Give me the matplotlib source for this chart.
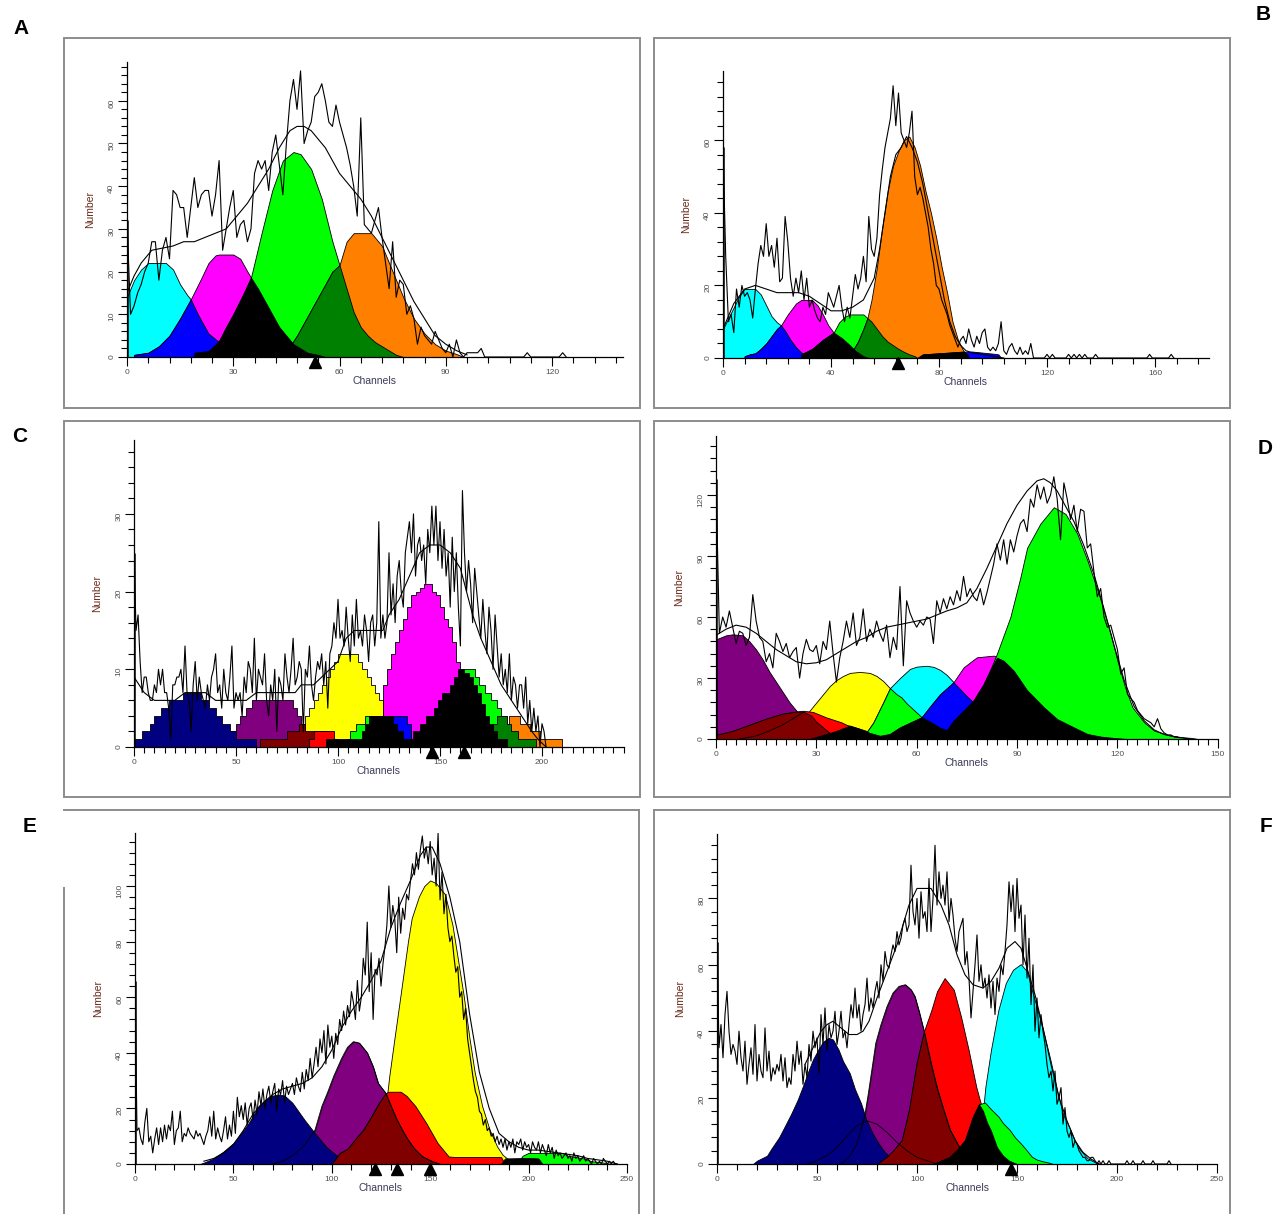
import numpy as np
import matplotlib.pyplot as plt
from matplotlib.patches import Rectangle
from matplotlib.lines import Line2D
from matplotlib.ticker import MultipleLocator
from matplotlib.transforms import offset_copy

plt.rcParams['font.family'] = ['Liberation Sans', 'DejaVu Sans']

W, H = 1278, 1214

CYAN, BLUE, MAGENTA, BLACK = '#00ffff', '#0000ff', '#ff00ff', '#000000'
GREEN, DKGREEN, ORANGE, YELLOW = '#00ff00', '#008000', '#ff8000', '#ffff00'
NAVY, PURPLE, DKRED, RED = '#000080', '#800080', '#800000', '#ff0000'

# ---------------- panel A ----------------
a_raw = [32, 10, 12, 15, 17, 20, 22, 27, 27, 18,
         25, 28, 23, 39, 38, 35, 35, 28, 35, 42,
         35, 38, 39, 39, 33, 38, 46, 25, 30, 35,
         39, 28, 31, 32, 27, 30, 43, 46, 44, 46,
         39, 48, 52, 45, 38, 50, 60, 65, 58, 67,
         50, 53, 55, 61, 62, 64, 60, 55, 54, 59,
         55, 52, 49, 45, 40, 33, 56, 31, 30, 29,
         32, 35, 28, 22, 16, 27, 14, 18, 17, 10,
         12, 9, 3, 7, 5, 4, 3, 6, 4, 2,
         1, 3, 0, 4, 1, 0, 1, 1, 1, 1,
         2] + [0] * 12 + [1] + [0] * 9 + [1, 0]
a_fit_x = [0, 2, 4, 7, 10, 13, 16, 19, 22, 25, 28, 31, 34, 37, 40, 43, 46, 48, 50, 52,
           54, 56, 58, 60, 63, 66, 69, 72, 75, 78, 81, 84, 87, 90, 93, 96]
a_fit_y = [15, 19, 22, 25, 25.5, 26, 27, 27, 28, 29, 30, 33, 36, 40, 44, 49, 53, 54, 54, 53,
           51, 49, 46, 43, 40, 37, 33, 28, 23, 18, 13, 9, 5, 3, 1.5, 0.5]
a_cyan = ([0, 2, 4, 6, 8, 11, 13, 15, 17, 18, 20, 23, 26, 29, 32],
          [14, 18, 20.5, 22, 22, 22, 20.5, 17, 14.5, 13.5, 10, 5.5, 3.5, 1.5, 0])
a_magenta = ([2, 6, 9, 12, 15, 18, 21, 23, 25, 26, 30, 32, 34, 35, 37, 39, 41, 43, 45, 47, 49, 51, 54, 56],
             [0.5, 1, 2.5, 5, 9, 13.5, 18.5, 22, 23.8, 24, 24, 23, 20, 18.6, 16, 13, 10, 7, 5, 3, 2, 1, 0.5, 0])
a_green = ([19, 23, 26, 28, 30, 33, 35, 38, 41, 44, 47, 49, 52, 55, 58, 60, 62, 64, 66, 68, 70, 72, 74, 76, 78],
           [1, 1.4, 3.75, 7, 10, 15, 18.6, 29, 39, 46, 48, 47.5, 44, 37, 27, 21.5, 16, 10.5, 7, 5, 3.5, 2.5, 1.5, 0.5, 0])
a_orange = ([44, 46, 48, 50, 52, 54, 56, 58, 60, 62, 64, 69, 72, 75, 78, 81, 84, 87, 90, 93, 95],
            [1, 2.5, 5, 8, 11, 14, 17, 20, 21.5, 27, 29, 29, 26, 20, 14, 9, 5.5, 3, 1.5, 0.7, 0])
a_blue = ([2, 6, 9, 12, 15, 18, 20, 23, 26, 29, 32],
          [0.5, 1, 2.5, 5, 9, 13.5, 10, 5.5, 3.5, 1.5, 0])
a_black = ([19, 23, 26, 28, 30, 33, 35, 37, 39, 41, 43, 45, 47, 49, 51, 54, 56],
           [1, 1.4, 3.75, 7, 10, 15, 18.6, 16, 13, 10, 7, 5, 3, 2, 1, 0.5, 0])
a_dkgreen = ([44, 46, 48, 50, 52, 54, 56, 58, 60, 62, 64, 66, 68, 70, 72, 74, 76, 78],
             [1, 2.5, 5, 8, 11, 14, 17, 20, 21.5, 16, 10.5, 7, 5, 3.5, 2.5, 1.5, 0.5, 0])
a_marks = [53]

# ---------------- panel B ----------------
b_raw = [58, 28, 10, 12, 7, 19, 14, 20, 17, 18,
         16, 11, 19, 26, 31, 28, 37, 28, 31, 25,
         33, 21, 22, 39, 32, 22, 17, 22, 18, 24,
         16, 22, 14, 16, 13, 11, 10, 14, 12, 18,
         16, 14, 17, 20, 14, 10, 14, 11, 17, 23,
         19, 22, 28, 21, 39, 30, 28, 33, 45, 52,
         58, 62, 66, 75, 64, 73, 62, 60, 58, 62,
         68, 50, 45, 47, 44, 40, 36, 30, 26, 20,
         19, 16, 14, 12, 9, 7, 5, 3, 5, 6,
         4, 8, 5, 3, 6, 4, 7, 8, 3, 2,
         3, 2, 4, 10, 2, 1, 3, 4, 2, 1,
         3, 1, 2, 1, 4, 0, 0, 0, 0, 0,
         1, 0, 1, 0, 0, 0, 0, 0, 1, 0,
         1, 0, 1, 0, 1, 0, 0, 0, 1, 0] + [0] * 18 + [1] + [0] * 7 + [1, 0]
b_fit_x = [0, 4, 8, 12, 16, 20, 24, 28, 32, 36, 40, 44, 48, 52, 56, 58, 60, 62, 64, 66,
           68, 70, 72, 74, 76, 78, 80, 82, 84, 86, 88, 90, 92, 96, 100, 104]
b_fit_y = [8, 15, 19, 20, 19, 18, 18, 18, 17, 15, 13, 13, 14, 16, 22, 30, 40, 50, 56, 58,
           61, 58, 54, 48, 40, 32, 24, 16, 10, 6, 3.5, 2, 1.5, 1, 0.5, 0]
b_cyan = ([0, 2, 4, 6, 8, 12, 14, 16, 18, 20, 21.5, 24, 27, 30, 33],
          [8, 11, 14, 17, 19, 19, 17.5, 14.5, 11.5, 9.8, 9, 6, 3, 1, 0])
b_magenta = ([8, 10, 12, 14, 16, 18, 20, 21.5, 24, 27, 29, 33, 35, 37, 39, 41, 44, 47, 49, 52, 54],
             [0.5, 1, 1.3, 2.5, 4, 6, 8, 9, 12, 15, 16, 16, 14.5, 12, 9, 7, 5.5, 3.5, 2, 0.5, 0])
b_green = ([29, 33, 37, 41, 43, 45, 47, 52, 53.5, 55, 57, 59, 61, 63, 65, 67, 69, 71, 72],
           [1, 2.5, 5, 7, 9.8, 11.3, 12, 12, 11, 10, 8, 6, 4.5, 3.5, 2.5, 1.7, 1, 0.5, 0])
b_orange = ([44, 46, 48, 50, 52, 53.5, 55, 57, 59, 61, 63, 65, 67, 69, 71, 73, 75, 77, 79, 81,
             83, 85, 87, 89, 91, 93],
            [0.3, 1, 2, 4.5, 8, 11, 16, 25, 36, 46, 53, 57, 60, 61, 58, 53, 46, 40, 33, 25,
             18, 10, 5, 2, 0.5, 0])
b_blue_tail = ([72, 74, 80, 86, 92, 96, 100, 102, 103],
               [0, 1, 1.3, 1.6, 1.8, 1.5, 1.2, 1, 0])
b_blue = ([8, 10, 12, 14, 16, 18, 20, 21.5, 23, 25, 27, 29, 31, 33],
          [0.5, 1, 1.3, 2.5, 4, 6, 8, 9, 7.5, 5, 3, 1.5, 0.5, 0])
b_dkgreen = ([44, 46, 48, 50, 52, 53.5, 55, 57, 59, 61, 63, 65, 67, 69, 71, 72],
             [0.3, 1, 2, 4.5, 8, 11, 10, 8, 6, 4.5, 3.5, 2.5, 1.7, 1, 0.5, 0])
b_black = ([29, 33, 37, 41, 44, 47, 49, 52, 54],
           [1, 2.5, 5, 7, 5.5, 3.5, 2, 0.5, 0])
b_black_tail = ([72, 74, 80, 86, 89, 90.5, 91],
                [0, 1, 1.3, 1.6, 1.8, 1, 0])
b_marks = [65]

# ---------------- panel C (stepped components) ----------------
c_raw = [25, 15, 17, 11, 7, 9, 9, 7, 6, 6, 8, 7, 10, 8, 10, 7, 7, 5, 1, 8,
         8, 9, 9, 10, 7, 13, 7, 6, 2, 8, 11, 6, 9, 7, 6, 5, 8, 6, 9, 10,
         12, 7, 8, 5, 10, 7, 6, 9, 13, 5, 7, 6, 7, 4, 9, 7, 11, 10, 7, 14,
         6, 10, 9, 8, 12, 6, 4, 8, 6, 10, 2, 9, 8, 6, 12, 9, 7, 10, 14, 8,
         9, 11, 10, 2, 10, 9, 13, 8, 6, 9, 11, 10, 12, 8, 11, 5, 12, 13, 16, 14,
         19, 14, 15, 13, 18, 14, 11, 17, 13, 19, 14, 15, 13, 17, 15, 11, 16, 17, 13, 16,
         29, 14, 17, 14, 16, 25, 17, 21, 16, 22, 24, 20, 18, 25, 27, 29, 25, 30, 22, 26,
         27, 24, 26, 21, 28, 25, 31, 26, 31, 24, 29, 23, 28, 22, 25, 18, 27, 20, 25, 18,
         13, 33, 25, 20, 24, 21, 16, 23, 20, 17, 14, 19, 15, 12, 18, 15, 10, 17, 13, 9,
         12, 8, 10, 7, 12, 6, 9, 8, 5, 8, 8, 5, 9, 3, 6, 2, 5, 2, 4, 0,
         3, 2, 0]
c_fit_x = [0, 5, 10, 20, 25, 35, 40, 55, 60, 79, 82, 88, 92, 96, 100, 104, 108, 122, 125, 130,
           135, 140, 145, 150, 155, 160, 163, 166, 170, 175, 180, 185, 190, 195, 198, 202]
c_fit_y = [9, 7, 6, 6, 7, 7, 6, 6, 7, 7, 8, 8, 9, 10, 11, 14, 15, 15, 17, 19,
           22, 25, 26, 26, 25, 23, 20, 17, 14, 11, 8, 6, 4, 2, 1, 0]
c_navy = ([0, 4, 8, 10, 13, 17, 24, 33, 37, 40, 43, 47, 50, 60],
          [1, 2, 3, 4, 5, 6, 7, 6, 5, 4, 3, 2, 1, 0])
c_purple = ([45, 47, 50, 52, 55, 58, 78, 80, 82, 84, 86, 88],
            [1, 2, 3, 4, 5, 6, 5, 4, 3, 2, 1, 0])
c_dkred = ([62, 75, 81, 84, 95, 100], [1, 2, 3, 2, 1, 0])
c_red_peak = ([117, 119, 125, 127], [4, 5.5, 4, 0])
c_red_low = ([86, 88, 98], [1, 2, 0])
c_yellow = ([82, 84, 86, 88, 90, 92, 94, 96, 98, 100, 110, 112, 114, 116, 118, 120, 122, 124, 126, 128, 130],
            [2, 4, 5, 6, 7, 8, 9, 10, 11, 12, 11, 10, 9, 8, 7, 6, 5, 3, 2, 1, 0])
c_green = ([104, 106, 109, 113, 122, 130, 138, 146, 152, 158, 167, 169, 172, 175, 178, 180, 183, 186, 188],
           [1, 2, 3, 4, 5, 6, 7, 8, 9, 10, 9, 8, 7, 6, 5, 4, 2, 1, 0])
c_magenta = ([120, 122, 124, 126, 128, 130, 132, 134, 136, 138, 140, 142, 146, 148, 150, 152, 154, 156,
              158, 160, 162, 164, 166, 168, 170],
             [3, 8, 10, 12, 13.5, 15, 16.5, 18, 19.5, 20, 20.5, 21, 20, 19.5, 18, 16.5, 15.5, 13.5,
              11, 9, 7, 5, 3, 1, 0])
c_blue = ([120, 122, 134, 136, 138], [2, 4, 3, 1, 0])
c_black = ([94, 112, 113, 115, 127, 129, 132, 137, 140, 143, 147, 149, 151, 155, 157, 159, 162, 164,
            166, 168, 170, 172, 174, 176, 178, 183],
           [1, 2, 3, 4, 3, 2, 1, 2, 3, 4, 5, 6, 7, 8, 9, 10, 9.5, 9, 8, 7, 5.5, 4, 3, 2, 1, 0])
c_dkgreen = ([170, 172, 176, 178, 183, 185, 188, 197], [1, 2, 3, 4, 3, 2, 1, 0])
c_orange = ([180, 182, 184, 189, 194, 199, 210], [2, 3, 4, 3, 2, 1, 0])
c_marks = [146, 162]

# ---------------- panel D ----------------
d_raw = [128, 52, 60, 55, 63, 55, 47, 53, 52, 46,
         50, 71, 58, 50, 48, 38, 42, 35, 52, 48,
         43, 47, 40, 43, 45, 30, 42, 49, 44, 43,
         46, 37, 48, 44, 58, 42, 28, 40, 48, 58,
         50, 62, 46, 50, 64, 48, 54, 50, 58, 52,
         48, 56, 40, 50, 44, 75, 36, 68, 62, 58,
         55, 58, 56, 60, 59, 47, 68, 62, 69, 64,
         70, 66, 73, 68, 80, 70, 74, 70, 68, 74,
         66, 72, 79, 86, 96, 88, 98, 86, 98, 92,
         100, 106, 108, 102, 118, 114, 125, 118, 124, 116,
         120, 129, 118, 98, 126, 118, 108, 115, 102, 113,
         112, 94, 96, 82, 70, 74, 60, 55, 56, 50,
         44, 32, 35, 22, 20, 18, 14, 12, 10, 9,
         8, 6, 10, 5, 3, 2, 2, 1, 1]
d_fit_x = [0, 3, 6, 9, 12, 15, 18, 21, 24, 27, 30, 33, 36, 39, 42, 45, 48, 51, 54, 57,
           60, 63, 66, 69, 72, 75, 78, 81, 84, 87, 90, 93, 96, 98, 100, 102, 104, 107, 110, 113,
           116, 119, 122, 125, 128, 131, 134, 138, 142]
d_fit_y = [51, 54, 56, 55, 52, 48, 44, 41, 38, 37, 37.5, 39, 42, 45, 48, 50, 53, 55, 56, 57,
           58, 59, 61, 63, 64.5, 67, 74, 84, 95, 106, 115, 122, 127, 128, 126, 122, 116, 107, 95, 81,
           64, 46, 29, 16, 9, 4.5, 2.2, 0.8, 0]
d_purple = ([0, 3, 5, 8, 10, 12, 14, 16, 18, 20, 22, 24, 26, 28, 30, 33, 36, 40, 44],
            [49, 51, 51.5, 51, 48, 44, 39, 33, 28, 23, 18, 14, 10, 7, 5, 3, 1.5, 0.5, 0])
d_red = ([0, 5, 10, 15, 20, 24, 26, 29, 33, 37.5, 39, 42, 45, 48, 51, 54],
         [2, 4, 7, 10, 12.5, 13.5, 13.9, 13.3, 10.6, 8.2, 7, 5.5, 4, 2.5, 1, 0])
d_dkred = ([0, 5, 10, 15, 20, 24, 26, 28.5, 30, 32, 34, 36],
           [2, 4, 7, 10, 12.5, 13.5, 13.5, 11.5, 8.5, 5.7, 3, 0])
d_yellow = ([24, 26, 28, 30, 32, 34, 36, 38, 40, 43, 46, 48, 50, 52, 54, 55.4, 57, 58.8, 61.5, 64,
             67, 69, 72, 75, 78],
            [5, 10, 14, 18, 22, 26, 29, 31, 32.5, 33, 32.5, 31, 28.5, 25, 22, 20.5, 17.5, 14.8, 10.7, 8.5,
             5.5, 4.4, 2, 0.8, 0])
d_cyan = ([44, 47, 50, 52, 55, 58, 60, 63, 65, 67, 69, 71, 73, 75, 77, 80, 83, 86, 89, 92, 95],
          [1, 8, 18, 25, 30, 34.5, 35.6, 36, 35.5, 34, 31.5, 28, 24.5, 21, 18, 13, 8, 4.5, 2, 0.5, 0])
d_magenta = ([50, 52, 55, 58, 61.5, 64, 67, 71, 74, 76.6, 78, 83, 84, 85.5, 89, 93, 98, 102, 107, 111,
              115, 119, 123],
             [0.5, 2.5, 5.7, 8, 10.7, 16, 22, 27.9, 35.2, 38.5, 40.2, 41, 40.5, 38.5, 33.6, 24, 15.6, 9.8, 5.7, 2.5,
              1.2, 0.5, 0])
d_green = ([60, 64, 67, 69, 71, 74, 77, 80, 82, 84, 88, 91, 93, 97, 101, 104.5, 108, 111, 114.5, 118,
            120, 122.3, 124.5, 128, 131, 136, 140, 142.4, 144],
           [0, 1, 2.5, 4.5, 9, 14, 19, 27, 34, 42, 60, 79.5, 94, 106, 114, 110.7, 101, 88, 71, 51.6,
            38.5, 25.4, 15.6, 8.2, 4.1, 1.6, 0.8, 0.5, 0])
d_green_mid = ([44, 47, 50, 52, 54, 55.4, 57, 58.8, 61.5, 64, 67, 69, 72, 75, 78],
               [1, 8, 18, 25, 22, 20.5, 17.5, 14.8, 10.7, 8.5, 5.5, 4.4, 2, 0.8, 0])
d_blue = ([50, 52, 55, 58, 61.5, 64, 67, 71, 73, 75, 77, 80, 83, 86, 89, 92, 95],
          [0.5, 2.5, 5.7, 8, 10.7, 16, 22, 27.9, 24.5, 21, 18, 13, 8, 4.5, 2, 0.5, 0])
d_black = ([28, 32, 36, 40, 43, 46, 49, 52, 55, 58, 61.5, 64, 67, 69, 71, 74, 77, 80, 82, 84,
            86, 89, 93, 98, 102, 107, 111, 115, 119, 123],
           [0, 2, 4, 6.6, 5, 3, 1.6, 2.5, 5.7, 8, 10.7, 8.5, 5.5, 4.4, 9, 14, 19, 27, 34, 40,
            38.5, 33.6, 24, 15.6, 9.8, 5.7, 2.5, 1.2, 0.5, 0])
d_hidden = ([7, 12, 16, 20, 23, 26], [0, 1.5, 4, 7, 10, 13])

# ---------------- panel E ----------------
e_raw = [66, 12, 13, 9, 7, 15, 20, 8, 10, 4,
         9, 13, 7, 13, 8, 14, 9, 14, 12, 19,
         7, 12, 13, 19, 8, 11, 10, 13, 11, 10,
         9, 12, 10, 11, 9, 7, 10, 12, 17, 10,
         19, 9, 13, 10, 8, 12, 17, 9, 14, 10,
         19, 11, 24, 17, 21, 16, 22, 14, 20, 22,
         16, 23, 18, 26, 21, 27, 20, 25, 28, 22,
         26, 29, 19, 27, 25, 30, 22, 28, 25, 27,
         29, 25, 31, 28, 26, 33, 27, 34, 30, 38,
         31, 36, 42, 35, 45, 40, 48, 36, 50, 42,
         46, 38, 47, 43, 52, 48, 55, 50, 57, 53,
         62, 58, 52, 66, 55, 60, 74, 68, 87, 62,
         76, 52, 70, 68, 74, 64, 72, 78, 86, 100,
         85, 93, 88, 76, 96, 83, 92, 88, 97, 95,
         102, 108, 104, 112, 106, 113, 118, 110, 114, 108,
         116, 104, 110, 100, 119, 95, 105, 90, 97, 85,
         80, 82, 75, 69, 71, 60, 62, 52, 56, 45,
         40, 35, 30, 26, 24, 19, 18, 14, 16, 12,
         13, 10, 11, 8, 10, 7, 9, 6, 9, 5,
         8, 6, 9, 4, 8, 7, 9, 5, 8, 6,
         7, 4, 8, 6, 5, 8, 4, 7, 5, 3,
         7, 4, 6, 2, 5, 3, 4, 2, 3, 4,
         2, 3, 1, 4, 2, 3, 1, 2, 3, 1,
         2, 1, 0, 2, 1, 0, 1, 0, 2, 1,
         0, 1, 0, 1, 0, 0]
e_fit_x = [35, 40, 45, 50, 55, 60, 65, 70, 75, 80, 85, 90, 95, 100, 105, 110, 115, 120, 125, 130,
           135, 140, 145, 148, 151, 155, 160, 165, 170, 175, 180, 185, 190, 195, 200, 205, 210, 215, 220, 225,
           230, 235, 240, 245]
e_fit_y = [1, 2, 4, 7, 12, 18, 22, 25, 27, 28, 29, 31, 35, 41, 49, 55, 60, 66, 73, 85,
           94, 102, 111, 114, 114, 108, 96, 80, 54, 33, 20, 11, 8, 6, 5, 5, 4.5, 4, 3.5, 3,
           2, 1.5, 1, 0]
e_navy = ([33, 35, 40, 45, 50, 55, 58, 63, 69, 73, 76, 80, 86, 91.5, 97, 102, 106, 110, 114, 118],
          [0, 0.5, 2, 4.5, 7.5, 12, 15, 21, 24.5, 25, 24.6, 22, 16, 11, 6.3, 3.3, 2, 1, 0.5, 0])
e_purple = ([70, 75, 80, 85, 88, 91.5, 95, 98, 101, 105, 108, 111, 114, 118, 121, 123.6, 127.4, 130, 133, 136,
             139, 142, 146, 151, 155],
            [0, 1, 3, 6, 8.5, 12.3, 20.8, 26, 31.6, 38, 42, 44, 43.5, 40, 35, 29, 25.5, 21, 16, 12,
             8.5, 5.5, 2.7, 0.8, 0])
e_yellow = ([118, 121, 124, 126, 128.3, 129.2, 132, 134.9, 136.8, 138.7, 140.6, 144.3, 147, 150, 153, 157.5,
             161.3, 164, 167, 169.8, 172.6, 176.4, 180.2, 184, 186.8, 190, 193, 196],
            [0, 3, 10, 18, 26, 31.6, 46, 60.6, 70.3, 80, 88.4, 96.3, 100, 102, 101, 97,
             86, 74, 60.6, 46, 33, 20.8, 12.3, 6.3, 3.3, 1.5, 0.5, 0])
e_red = ([100, 104, 108, 112, 116, 120, 124, 127.4, 129, 135, 138, 142.5, 148, 153.8, 159.4, 163, 172, 180, 186, 188],
         [0, 3.9, 5.5, 9, 12.3, 17, 22, 25.5, 26, 26, 24.5, 20.8, 14.7, 7.5, 2.7, 2.5, 2.5, 2.5, 2.5, 0])
e_dkred = ([100, 104, 108, 112, 116, 120, 124, 127.4, 130, 133, 136, 138.7, 142, 146, 151.9, 155],
           [0, 3.9, 5.5, 9, 12.3, 17, 22, 25.5, 21, 16, 12, 8.7, 5.5, 2.7, 0.8, 0])
e_green = ([194, 197, 200, 217, 220, 224, 228, 232, 238, 242],
           [0, 3, 4, 4, 3, 2.5, 2, 1, 0.5, 0])
e_black = ([186, 188, 200, 205, 207], [0, 2, 2.2, 2, 0])
e_marks = [122, 133, 150]

# ---------------- panel F ----------------
f_raw = [67, 35, 42, 32, 45, 52, 40, 33, 36, 34,
         30, 40, 32, 28, 37, 24, 30, 35, 27, 42,
         25, 33, 28, 26, 41, 28, 34, 25, 29, 27,
         30, 28, 33, 25, 32, 23, 26, 24, 33, 28,
         37, 30, 34, 24, 30, 26, 36, 31, 40, 35,
         38, 27, 45, 36, 47, 34, 42, 38, 40, 46,
         36, 40, 46, 38, 40, 35, 42, 48, 44, 53,
         44, 48, 40, 45, 48, 56, 46, 50, 47, 52,
         55, 50, 60, 55, 64, 60, 59, 63, 66, 64,
         70, 66, 68, 72, 74, 70, 72, 90, 76, 72,
         80, 68, 82, 74, 76, 70, 86, 70, 80, 96,
         78, 88, 80, 84, 78, 88, 73, 80, 75, 68,
         64, 70, 72, 74, 60, 64, 56, 44, 52, 60,
         69, 55, 60, 53, 56, 50, 57, 47, 55, 45,
         56, 52, 60, 57, 64, 72, 85, 76, 84, 70,
         86, 74, 78, 60, 75, 56, 68, 48, 60, 40,
         50, 38, 45, 40, 36, 30, 26, 28, 22, 28,
         18, 20, 23, 12, 17, 10, 8, 10, 5, 7,
         6, 4, 3, 2, 2, 1, 1, 2, 2, 1,
         0, 1, 0, 1, 0, 0, 1, 0, 0, 0,
         0, 0, 0, 0, 0, 1, 0, 0, 1, 0,
         0, 0, 0, 1, 0, 0, 0, 0, 1, 0,
         0, 0, 0, 0, 0, 0, 1, 0]
f_fit_x = [44, 48, 52, 55, 58, 62, 66, 70, 73, 76, 80, 85, 90, 96, 100, 107, 112, 116, 120, 124,
           128, 133, 137, 141, 145, 149, 152, 155, 159, 163, 167, 171, 175, 179, 183, 187, 191]
f_fit_y = [30, 35, 40, 42, 43, 41, 39, 39, 40, 43, 50, 58, 66, 78, 83, 83, 78, 72, 63, 57,
           54, 53, 55, 59, 65, 67, 65, 59, 51, 41, 30, 20, 13, 7, 3.5, 1.5, 0]
f_navy = ([18, 20, 25, 27.3, 31, 33, 37, 40.3, 43, 45.9, 48, 50.6, 53, 55.8, 58, 60.8, 63, 66.4, 69, 72,
           74.7, 78, 81, 84, 87, 90, 94],
          [0, 1, 2.5, 4.7, 8, 10.3, 15, 19.3, 23.5, 28.3, 31.5, 34.4, 36.8, 38, 37.5, 34.4, 31, 27.3, 22.5, 18.3,
           13.3, 9, 6, 3.5, 2, 1, 0])
f_purple = ([62, 66, 70, 73.8, 75.7, 79.4, 82, 85, 88, 91, 94.2, 97, 98.9, 101, 103.5, 107, 110, 112.8, 116.5, 122,
             126, 130, 134],
            [0, 2, 6, 14.3, 21.3, 36.4, 42, 47.4, 51.5, 53.5, 54, 52.5, 50.5, 46, 40, 30.3, 23, 17.3, 10.3, 4.2,
             1.5, 0.5, 0])
f_red = ([80, 85, 88, 92.4, 96, 99.8, 103.5, 107.2, 110, 113.8, 118.4, 122, 125.8, 129.6, 131.4, 133, 135, 137, 140, 143,
          146, 150],
         [0, 2.2, 4, 7.2, 16.3, 30.3, 40, 46.4, 52, 56, 52.5, 44.4, 34.4, 23.3, 19.3, 16, 12.5, 10, 5, 2.5,
          1, 0])
f_dkred = ([80, 85, 88, 92.4, 96, 99.8, 103.5, 107, 110, 112.8, 116.5, 122, 126, 130, 134],
           [0, 2.2, 4, 7.2, 16.3, 30.3, 40, 30.3, 23, 17.3, 10.3, 4.2, 1.5, 0.5, 0])
f_cyan = ([118, 122, 126, 130, 133, 134.2, 137, 140.7, 144.4, 148, 151.9, 155, 157.4, 160, 163, 166.7, 170.4, 173, 176, 179,
           181.6, 185.3, 189, 192],
          [0, 1, 3, 8, 16, 23.3, 34.4, 46.4, 54.5, 58.5, 60.2, 58, 52.5, 47, 40.4, 31.4, 21.3, 15, 11.3, 7,
           4.2, 1.7, 0.5, 0])
f_green = ([108, 112, 116, 120, 124, 128, 131, 134, 137, 140.7, 143, 146.3, 149, 151.9, 155, 157.4, 160, 163, 166, 168],
           [0, 1, 2, 4.2, 7.2, 14.3, 18, 18.5, 16.5, 14.3, 12.3, 10.3, 8, 6.2, 4, 2.2, 1.3, 0.8, 0.4, 0])
f_black = ([108, 112, 116, 120, 124, 128, 131, 133, 135, 137, 140, 143, 146, 150],
           [0, 1, 2, 4.2, 7.2, 14.3, 18, 16, 12.5, 10, 5, 2.5, 1, 0])
f_hidden = ([45, 50, 55, 60, 65, 70, 75, 80, 85, 90, 95, 100, 105, 110],
            [0, 1, 2.5, 5, 8.5, 11.5, 13, 12, 9.5, 6.5, 4, 2, 1, 0])
f_marks = [147]

fig = plt.figure(figsize=(W / 100, H / 100), dpi=100)


def ftext(x, y, s, **kw):
    fig.text(x / W, 1 - y / H, s, **kw)


def panel(x0, sx, y0, sy, xmax, ymax, xstep, xminor, ystep, yminor,
          fills, raw, fit, marks, outlines=(), step=False):
    ax = fig.add_axes([x0 / W, 1 - y0 / H, xmax * sx / W, ymax * sy / H])
    ax.set_xlim(0, xmax)
    ax.set_ylim(0, ymax)
    ax.patch.set_alpha(0)
    for color, (fx, fy) in fills:
        ax.fill_between(fx, fy, 0, step='post' if step else None, facecolor=color,
                        edgecolor='black', linewidth=0.6, zorder=2)
    for ox, oy in outlines:
        ax.plot(ox, oy, color='black', lw=0.6, zorder=3)
    ax.plot(fit[0], fit[1], color='black', lw=0.8, zorder=4)
    ax.plot(np.arange(len(raw)), raw, color='black', lw=0.8, zorder=5)
    ax.vlines(0, 0, raw[0], color='black', lw=1.8, zorder=5)
    if marks:
        tr = offset_copy(ax.transData, fig=fig, y=-5, units='dots')
        ax.plot(marks, np.zeros(len(marks)), linestyle='none', marker='^', color='black',
                ms=8, transform=tr, clip_on=False, zorder=6)
    for s in ('top', 'right'):
        ax.spines[s].set_visible(False)
    for s in ('left', 'bottom'):
        ax.spines[s].set_linewidth(0.9)
    ax.xaxis.set_major_locator(MultipleLocator(xstep))
    ax.xaxis.set_minor_locator(MultipleLocator(xminor))
    ax.yaxis.set_major_locator(MultipleLocator(ystep))
    ax.yaxis.set_minor_locator(MultipleLocator(yminor))
    ax.tick_params(which='major', length=6.5, width=0.8, labelsize=6, labelcolor='#505050', pad=2)
    ax.tick_params(which='minor', length=4, width=0.8)
    ax.tick_params(axis='y', labelrotation=90, pad=2)
    ftext(x0 - 37, y0 - ymax * sy / 2, 'Number', rotation=90, ha='center', va='center',
          fontsize=7.5, color='#6a2a1a')
    ftext(x0 + xmax * sx / 2, y0 + 24, 'Channels', ha='center', va='center',
          fontsize=7.5, color='#3a3a5a')
    return ax


panel(127, 3.542, 357, 4.27, 140, 69, 30, 6, 10, 2,
      [(CYAN, a_cyan), (MAGENTA, a_magenta), (GREEN, a_green), (ORANGE, a_orange),
       (BLUE, a_blue), (DKGREEN, a_dkgreen), (BLACK, a_black)],
      a_raw, (a_fit_x, a_fit_y), a_marks)

panel(723, 2.70, 358, 3.63, 180, 79, 40, 8, 20, 4,
      [(CYAN, b_cyan), (MAGENTA, b_magenta), (GREEN, b_green), (ORANGE, b_orange),
       (BLUE, b_blue_tail), (BLUE, b_blue), (DKGREEN, b_dkgreen), (BLACK, b_black),
       (BLACK, b_black_tail)],
      b_raw, (b_fit_x, b_fit_y), b_marks)

panel(134, 2.04, 747, 7.77, 240, 39.5, 50, 5, 10, 2,
      [(PURPLE, c_purple), (NAVY, c_navy), (RED, c_red_peak), (YELLOW, c_yellow),
       (GREEN, c_green), (MAGENTA, c_magenta), (ORANGE, c_orange), (DKGREEN, c_dkgreen),
       (DKRED, c_dkred), (RED, c_red_low), (BLUE, c_blue), (BLACK, c_black)],
      c_raw, (c_fit_x, c_fit_y), c_marks, step=True)

panel(716, 3.345, 739, 2.033, 150, 149, 30, 3, 30, 6,
      [(PURPLE, d_purple), (YELLOW, d_yellow), (RED, d_red), (DKRED, d_dkred),
       (CYAN, d_cyan), (MAGENTA, d_magenta), (GREEN, d_green), (GREEN, d_green_mid),
       (BLUE, d_blue), (BLACK, d_black)],
      d_raw, (d_fit_x, d_fit_y), [], outlines=[d_hidden])

panel(135, 1.968, 1164, 2.78, 250, 119, 50, 10, 20, 4,
      [(PURPLE, e_purple), (NAVY, e_navy), (YELLOW, e_yellow), (RED, e_red),
       (DKRED, e_dkred), (GREEN, e_green), (BLACK, e_black)],
      e_raw, (e_fit_x, e_fit_y), e_marks, outlines=[e_purple])

panel(717, 2.0, 1164, 3.32, 250, 99.5, 50, 10, 20, 4,
      [(PURPLE, f_purple), (NAVY, f_navy), (RED, f_red), (DKRED, f_dkred),
       (CYAN, f_cyan), (GREEN, f_green), (BLACK, f_black)],
      f_raw, (f_fit_x, f_fit_y), f_marks, outlines=[f_purple, f_hidden])

# panel frames
BOX = '#8c8c8c'
for (l, t, r, b) in [(64, 38, 640, 408), (654, 38, 1230, 408),
                     (64, 421, 640, 797), (654, 421, 1230, 797)]:
    fig.add_artist(Rectangle((l / W, 1 - b / H), (r - l) / W, (b - t) / H,
                             transform=fig.transFigure, fill=False,
                             edgecolor=BOX, linewidth=1.4))
for (xa, ya, xb, yb) in [(64, 810, 639, 810), (639, 810, 639, 1214), (64, 888, 64, 1214),
                         (654, 810, 1230, 810), (654, 810, 654, 1214), (1230, 810, 1230, 1214)]:
    fig.add_artist(Line2D([xa / W, xb / W], [1 - ya / H, 1 - yb / H],
                          transform=fig.transFigure, color=BOX, linewidth=1.4))

for letter, lx, ly in [('A', 21, 28), ('B', 1263, 15), ('C', 20, 437),
                       ('D', 1265, 449), ('E', 30, 826), ('F', 1266, 827)]:
    ftext(lx, ly, letter, ha='center', va='center', fontsize=15, fontweight='bold')

fig.savefig('out.png', dpi=100)
